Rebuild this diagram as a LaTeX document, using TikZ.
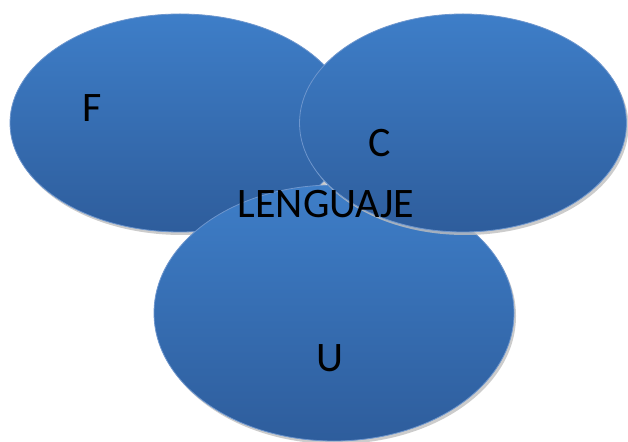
\documentclass[tikz,border=0pt]{standalone}
\usepackage{fontspec}
\setmainfont{Carlito}
\usetikzlibrary{shapes.geometric,shadows}
\definecolor{blobtop}{RGB}{62,126,200}
\definecolor{blobbot}{RGB}{46,93,156}
\definecolor{blobrim}{RGB}{110,150,205}
\tikzset{
  blob/.style={ellipse, inner sep=0pt, draw=blobrim, line width=0.8pt,
    top color=blobtop, bottom color=blobbot,
    drop shadow={shadow xshift=2pt, shadow yshift=-3pt, fill=black!25, opacity=0.8}},
  word/.style={anchor=base, inner sep=0pt, font=\fontsize{42}{42}\selectfont, text=black}
}
\begin{document}
\begin{tikzpicture}[x=1pt,y=1pt]
  \useasboundingbox (0,0) rectangle (628,441);
  % the three sets, back to front
  \node[blob, minimum width=340pt, minimum height=218pt] (f) at (180,318) {};
  \node[blob, minimum width=360pt, minimum height=256pt] (u) at (334,128) {};
  \node[blob, minimum width=327pt, minimum height=218pt] (c) at (463,318) {};
  % labels
  \node[word] (lf) at (92,319) {F};
  \node[word] (lc) at (380,284) {C};
  \node[word] (lu) at (330,69) {U};
  \node[word] (lang) at (326,223) {LENGUAJE};
\end{tikzpicture}
\end{document}
